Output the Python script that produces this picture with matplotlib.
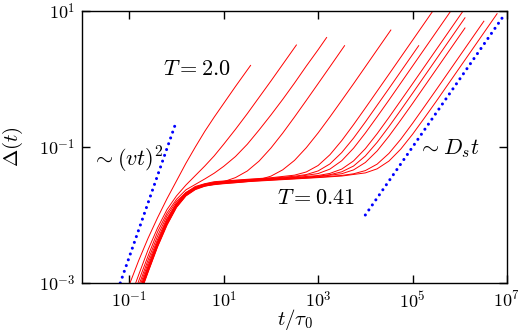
import numpy as np
import matplotlib
matplotlib.use('Agg')
import matplotlib.pyplot as plt

plt.rcParams['mathtext.fontset'] = 'cm'
plt.rcParams['font.family'] = 'serif'
plt.rcParams['font.serif'] = ['DejaVu Serif']

# log10(t/tau0) and log10(Delta), hottest (T = 2.0) first
t01 = [-1.2, -1.0, -0.8, -0.6, -0.4, -0.2, 0.0, 0.2, 0.4, 0.6, 0.8, 1.0, 1.25, 1.57]
d01 = [-3.42, -3.03, -2.67, -2.34, -2.04, -1.76, -1.50, -1.24, -1.00, -0.77, -0.56, -0.36, -0.11, 0.20]

t02 = [-1.0, -0.8, -0.6, -0.4, -0.2, 0.0, 0.2, 0.4, 0.6, 0.8, 1.0, 1.25, 1.5, 1.75, 2.0, 2.25, 2.54]
d02 = [-3.26, -2.88, -2.51, -2.19, -1.92, -1.72, -1.56, -1.42, -1.28, -1.13, -0.96, -0.74, -0.51, -0.27,
       -0.03, 0.215, 0.50]

t03 = [-1.0, -0.8, -0.6, -0.4, -0.2, 0.0, 0.2, 0.4, 0.6, 0.8, 1.0, 1.25, 1.5, 1.75, 2.0, 2.25, 2.5, 2.75,
       3.0, 3.18]
d03 = [-3.36, -2.97, -2.60, -2.25, -1.97, -1.77, -1.63, -1.55, -1.47, -1.385, -1.285, -1.14, -0.96, -0.75,
       -0.53, -0.30, -0.06, 0.19, 0.43, 0.61]

t04 = [-1.0, -0.8, -0.6, -0.4, -0.2, 0.0, 0.2, 0.4, 0.6, 0.8, 1.0, 1.25, 1.5, 1.75, 2.0, 2.25, 2.5, 2.75,
       3.0, 3.25, 3.56]
d04 = [-3.43, -3.04, -2.66, -2.31, -2.01, -1.80, -1.67, -1.60, -1.566, -1.54, -1.51, -1.45, -1.353, -1.207,
       -1.016, -0.796, -0.559, -0.315, -0.068, 0.18, 0.49]

t05 = [-1.0, -0.8, -0.6, -0.4, -0.2, 0.0, 0.2, 0.4, 0.6, 0.8, 1.0, 1.25, 1.5, 1.75, 2.0, 2.25, 2.5, 2.75,
       3.0, 3.25, 3.5, 3.75, 4.0, 4.25, 4.54]
d05 = [-3.49, -3.09, -2.71, -2.36, -2.05, -1.83, -1.685, -1.61, -1.572, -1.554, -1.54, -1.526, -1.509, -1.48,
       -1.429, -1.336, -1.197, -1.01, -0.793, -0.558, -0.315, -0.07, 0.18, 0.43, 0.72]

t06 = [-1.0, -0.8, -0.6, -0.4, -0.2, 0.0, 0.2, 0.4, 0.6, 0.8, 1.0, 1.5, 2.0, 2.5, 2.75, 3.0, 3.25, 3.5,
       3.75, 4.0, 4.5, 5.0, 5.5]
d06 = [-3.525, -3.13, -2.75, -2.39, -2.07, -1.83, -1.67, -1.58, -1.54, -1.51, -1.50, -1.475, -1.452, -1.414,
       -1.367, -1.272, -1.114, -0.906, -0.672, -0.427, 0.07, 0.57, 1.07]

t07 = [-1.0, -0.8, -0.6, -0.4, -0.2, 0.0, 0.2, 0.4, 0.6, 0.8, 1.0, 1.5, 2.0, 2.5, 2.75, 3.0, 3.25, 3.5,
       3.75, 4.0, 4.5, 5.13]
d07 = [-3.545, -3.15, -2.77, -2.41, -2.09, -1.84, -1.68, -1.59, -1.544, -1.52, -1.505, -1.48, -1.46, -1.43,
       -1.405, -1.352, -1.249, -1.082, -0.87, -0.633, -0.14, 0.49]

t08 = [-1.0, -0.8, -0.6, -0.4, -0.2, 0.0, 0.2, 0.4, 0.6, 0.8, 1.0, 1.5, 2.0, 2.5, 3.0, 3.25, 3.5, 3.75,
       4.0, 4.25, 4.5, 5.0, 5.5, 5.9]
d08 = [-3.565, -3.17, -2.79, -2.42, -2.10, -1.85, -1.69, -1.60, -1.55, -1.525, -1.51, -1.485, -1.465, -1.441,
       -1.391, -1.325, -1.202, -1.018, -0.795, -0.555, -0.31, 0.19, 0.69, 1.09]

t09 = [-1.0, -0.8, -0.6, -0.4, -0.2, 0.0, 0.2, 0.4, 0.6, 0.8, 1.0, 1.5, 2.0, 2.5, 3.0, 3.25, 3.5, 3.75,
       4.0, 4.25, 4.5, 5.0, 5.5, 6.15]
d09 = [-3.575, -3.18, -2.80, -2.43, -2.11, -1.86, -1.70, -1.60, -1.555, -1.53, -1.515, -1.49, -1.47, -1.448,
       -1.419, -1.388, -1.325, -1.205, -1.025, -0.804, -0.565, -0.07, 0.43, 1.08]

t10 = [-1.0, -0.8, -0.6, -0.4, -0.2, 0.0, 0.2, 0.4, 0.6, 0.8, 1.0, 1.5, 2.0, 2.5, 3.0, 3.25, 3.5, 3.75,
       4.0, 4.25, 4.5, 4.75, 5.0, 5.5, 6.11]
d10 = [-3.585, -3.19, -2.81, -2.44, -2.12, -1.87, -1.70, -1.61, -1.56, -1.535, -1.52, -1.495, -1.475, -1.455,
       -1.429, -1.407, -1.365, -1.28, -1.132, -0.931, -0.70, -0.457, -0.21, 0.29, 0.90]

t11 = [-1.0, -0.8, -0.6, -0.4, -0.2, 0.0, 0.2, 0.4, 0.6, 0.8, 1.0, 1.5, 2.0, 2.5, 3.0, 3.5, 3.75, 4.0,
       4.25, 4.5, 4.75, 5.0, 5.5, 6.11]
d11 = [-3.595, -3.20, -2.82, -2.45, -2.13, -1.88, -1.71, -1.615, -1.566, -1.54, -1.525, -1.50, -1.48, -1.46,
       -1.437, -1.393, -1.337, -1.228, -1.058, -0.841, -0.604, -0.36, 0.14, 0.75]

t12 = [-1.0, -0.8, -0.6, -0.4, -0.2, 0.0, 0.2, 0.4, 0.6, 0.8, 1.0, 1.5, 2.0, 2.5, 3.0, 3.5, 3.75, 4.0,
       4.25, 4.5, 4.75, 5.0, 5.25, 5.5, 6.0, 6.51]
d12 = [-3.605, -3.21, -2.83, -2.46, -2.14, -1.885, -1.716, -1.62, -1.572, -1.545, -1.53, -1.505, -1.485,
       -1.465, -1.445, -1.418, -1.394, -1.347, -1.252, -1.094, -0.886, -0.652, -0.407, -0.16, 0.34, 0.85]

# T = 0.41
t13 = [-1.0, -0.8, -0.6, -0.4, -0.2, 0.0, 0.2, 0.4, 0.6, 0.8, 1.0, 1.5, 2.0, 2.5, 3.0, 3.5, 4.0, 4.25,
       4.5, 4.75, 5.0, 5.25, 5.5, 6.0, 6.5, 6.79]
d13 = [-3.615, -3.22, -2.84, -2.47, -2.15, -1.89, -1.72, -1.627, -1.577, -1.55, -1.535, -1.51, -1.49, -1.47,
       -1.45, -1.427, -1.381, -1.321, -1.207, -1.031, -0.813, -0.574, -0.33, 0.17, 0.67, 0.96]

# guide lines (log10 end points)
ballistic_t = [-1.19, 0.0]
ballistic_d = [-3.0, -0.62]
diffusive_t = [4.0, 6.9]
diffusive_d = [-2.0, 0.9]

curves = [(t01, d01), (t02, d02), (t03, d03), (t04, d04), (t05, d05), (t06, d06), (t07, d07),
          (t08, d08), (t09, d09), (t10, d10), (t11, d11), (t12, d12), (t13, d13)]

fig = plt.figure(figsize=(5.18, 3.33), dpi=100)
ax = fig.add_axes([82 / 518, 1 - 283 / 333, 425 / 518, 272 / 333])

for lt, ld in curves:
    ax.plot(10 ** np.array(lt), 10 ** np.array(ld), color='red', lw=0.7)

for gt, gd in [(ballistic_t, ballistic_d), (diffusive_t, diffusive_d)]:
    ax.plot(10 ** np.array(gt), 10 ** np.array(gd), color='blue', lw=2.2,
            ls=(0, (0.01, 2.0)), dash_capstyle='round')

ax.set_xscale('log')
ax.set_yscale('log')
ax.set_xlim(1e-2, 1e7)
ax.set_ylim(1e-3, 1e1)
ax.minorticks_off()
ax.set_xticks([1e-1, 1e1, 1e3, 1e5, 1e7])
ax.set_xticklabels(['$10^{-1}$', '$10^{1}$', '$10^{3}$', '$10^{5}$', '$10^{7}$'])
ax.set_yticks([1e-3, 1e-1, 1e1])
ax.set_yticklabels(['$10^{-3}$', '$10^{-1}$', '$10^{1}$'])
ax.tick_params(which='both', direction='in', top=True, right=True, length=6, width=1.0,
               labelsize=13)
ax.tick_params(axis='x', pad=6)
ax.tick_params(axis='y', pad=5)
for s in ax.spines.values():
    s.set_linewidth(1.0)

ax.set_xlabel(r'$t/\tau_0$', fontsize=15)
ax.set_ylabel(r'$\Delta(t)$', fontsize=15)
ax.xaxis.set_label_coords(0.5, -0.088)
ax.yaxis.set_label_coords(-0.135, 0.5)

ax.text(10 ** -0.28, 10 ** 0.06, r'$T = 2.0$', fontsize=16)
ax.text(10 ** 2.12, 10 ** -1.84, r'$T = 0.41$', fontsize=16)
ax.text(10 ** -1.79, 10 ** -1.29, r'$\sim (vt)^2$', fontsize=16)
ax.text(10 ** 5.11, 10 ** -1.10, r'$\sim D_s t$', fontsize=16)

fig.savefig('out.png', dpi=100)
